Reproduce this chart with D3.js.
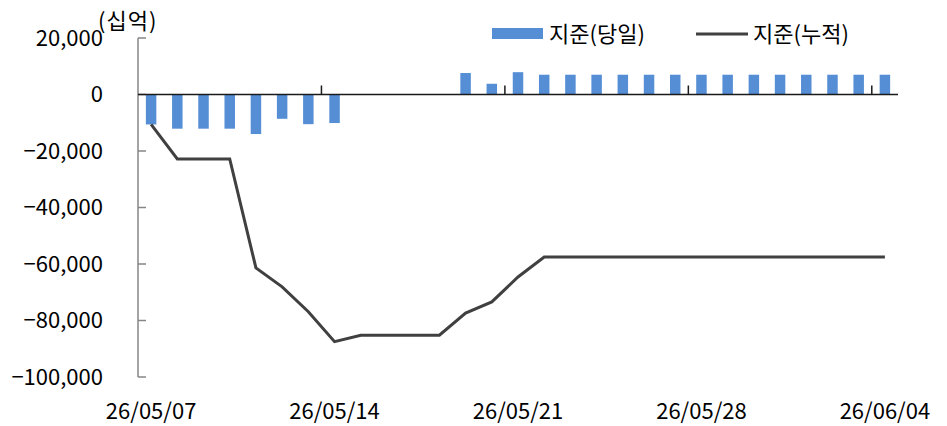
<!DOCTYPE html>
<meta charset="utf-8">
<style>
body { margin: 0; background: #fff; }
text { font-family: "Noto Sans CJK KR", "Noto Sans", sans-serif; fill: #000; }
</style>
<svg width="947" height="426"></svg>
<script src="https://d3js.org/d3.v7.min.js"></script>
<script>

var dates = ["26/05/07","26/05/08","26/05/09","26/05/10","26/05/11","26/05/12","26/05/13",
             "26/05/14","26/05/15","26/05/16","26/05/17","26/05/18","26/05/19","26/05/20",
             "26/05/21","26/05/22","26/05/23","26/05/24","26/05/25","26/05/26","26/05/27",
             "26/05/28","26/05/29","26/05/30","26/05/31","26/06/01","26/06/02","26/06/03",
             "26/06/04"];

// 지준(당일), 십억
var daily = [-10600,-12100,-12100,-12100,-14000,-8600,-10500,-10100,null,null,null,null,
             7600,3800,7900,7000,7000,7000,7000,7000,7000,7000,7000,7000,7000,7000,7000,7000,7000];

// 지준(누적)
var cumul = [-10600,-22800,-22800,-22800,-61400,-68100,-76900,-87500,-85200,-85200,-85200,-85200,
             -77400,-73400,-64600,-57500,-57500,-57500,-57500,-57500,-57500,-57500,-57500,-57500,
             -57500,-57500,-57500,-57500,-57500];

var yTicks = [20000, 0, -20000, -40000, -60000, -80000, -100000];
var xLabels = ["26/05/07","26/05/14","26/05/21","26/05/28","26/06/04"];

var svg = d3.select("svg");

var x = d3.scaleBand().domain(dates).range([138, 898]).padding(0);
var y = d3.scaleLinear().domain([-100000, 20000]).range([377, 38]);
var cx = function(d) { return x(d) + x.step() / 2; };
var fmt = d3.format(",");

// bars
svg.append("g").selectAll("rect")
    .data(dates.map(function(d, i) { return {date: d, v: daily[i]}; }).filter(function(d) { return d.v != null; }))
  .enter().append("rect")
    .attr("x", function(d) { return cx(d.date) - x.step() * 0.2; })
    .attr("width", x.step() * 0.4)
    .attr("y", function(d) { return y(Math.max(0, d.v)); })
    .attr("height", function(d) { return Math.abs(y(d.v) - y(0)); })
    .attr("fill", "#558ed5");

// y axis
svg.append("line").attr("x1", 138).attr("x2", 138).attr("y1", y(20000)).attr("y2", y(-100000))
    .attr("stroke", "#868686").attr("stroke-width", 1.5);
svg.append("g").selectAll("line").data(yTicks).enter().append("line")
    .attr("x1", 138).attr("x2", 146)
    .attr("y1", function(d) { return y(d); }).attr("y2", function(d) { return y(d); })
    .attr("stroke", "#868686").attr("stroke-width", 1.5);
svg.append("g").selectAll("text").data(yTicks).enter().append("text")
    .attr("x", 103).attr("y", function(d) { return y(d); })
    .attr("dy", "0.35em").attr("text-anchor", "end")
    .style("font-size", "22px")
    .text(function(d) { return fmt(d); });

// x axis at zero
svg.append("line").attr("x1", 138).attr("x2", 898).attr("y1", y(0)).attr("y2", y(0))
    .attr("stroke", "#1a1a1a").attr("stroke-width", 1.5);
svg.append("g").selectAll("line").data([7, 14, 21, 28]).enter().append("line")
    .attr("x1", function(i) { return x(dates[i]); }).attr("x2", function(i) { return x(dates[i]); })
    .attr("y1", y(0)).attr("y2", y(0) - 9)
    .attr("stroke", "#1a1a1a").attr("stroke-width", 1.5);
svg.append("g").selectAll("text").data(xLabels).enter().append("text")
    .attr("x", function(d) { return cx(d); }).attr("y", 411)
    .attr("dy", "0.35em").attr("text-anchor", "middle")
    .style("font-size", "22px")
    .text(function(d) { return d; });

// line
svg.append("path")
    .datum(cumul)
    .attr("fill", "none").attr("stroke", "#404040").attr("stroke-width", 3)
    .attr("d", d3.line().x(function(d, i) { return cx(dates[i]); }).y(function(d) { return y(d); }));

// unit
svg.append("text").attr("x", 98).attr("y", 21).attr("dy", "0.35em")
    .style("font-size", "22px").style("letter-spacing", "1px").text("(십억)");

// legend
svg.append("rect").attr("x", 492).attr("y", 28).attr("width", 51).attr("height", 11).attr("fill", "#558ed5");
svg.append("text").attr("x", 549).attr("y", 34).attr("dy", "0.35em").style("font-size", "22px").text("지준(당일)");
svg.append("line").attr("x1", 696).attr("x2", 748).attr("y1", 34).attr("y2", 34)
    .attr("stroke", "#404040").attr("stroke-width", 3);
svg.append("text").attr("x", 753).attr("y", 34).attr("dy", "0.35em").style("font-size", "22px").text("지준(누적)");

</script>
